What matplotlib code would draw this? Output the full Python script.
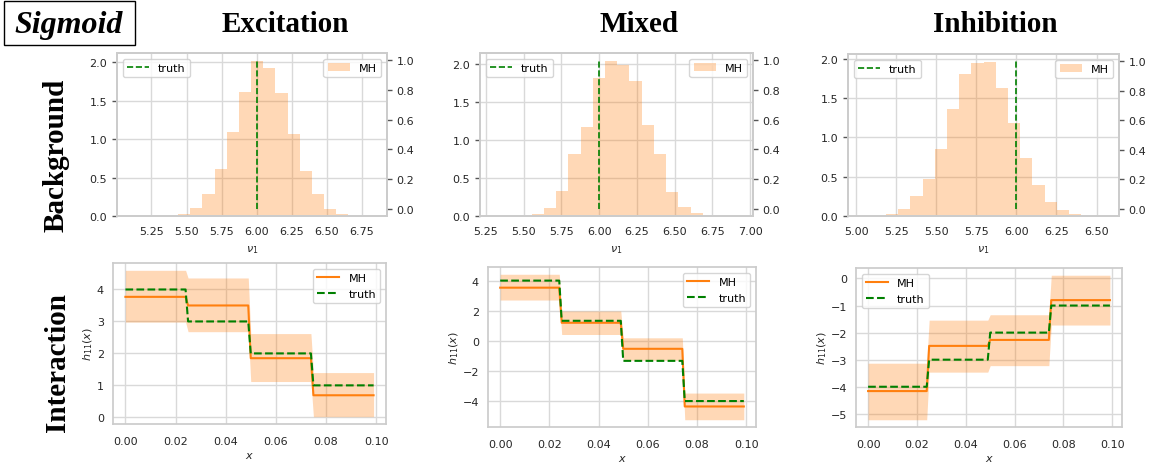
import numpy as np
import matplotlib.pyplot as plt
from matplotlib.patches import Rectangle

# ---- data ----
truth_nu = 6.0

exc_start, exc_width = 5.44, 0.0867
exc_heights = [0.02, 0.10, 0.29, 0.61, 1.09, 1.62, 2.02, 1.92, 1.60, 1.07, 0.59, 0.28, 0.09, 0.02]

mix_start, mix_width = 5.553, 0.081
mix_heights = [0.02, 0.11, 0.33, 0.82, 1.17, 1.82, 2.04, 1.98, 1.78, 1.19, 0.82, 0.32, 0.12, 0.04]

inh_start, inh_width = 5.1875, 0.076
inh_heights = [0.02, 0.09, 0.25, 0.47, 0.85, 1.36, 1.81, 1.94, 1.96, 1.62, 1.18, 0.74, 0.39, 0.18, 0.07, 0.02]

x_grid = np.arange(100) / 1000.0   # 4 Abschnitte a 25 Punkte
pts_per_seg = 25

exc_truth = [4, 3, 2, 1]
exc_mean = [3.77, 3.50, 1.85, 0.69]
exc_lo = [2.98, 2.68, 1.12, 0.02]
exc_hi = [4.60, 4.36, 2.62, 1.40]

mix_truth = [4, 1.33, -1.33, -4]
mix_mean = [3.53, 1.20, -0.53, -4.36]
mix_lo = [2.71, 0.42, -1.29, -5.24]
mix_hi = [4.42, 1.98, 0.20, -3.47]

inh_truth = [-4, -3, -2, -1]
inh_mean = [-4.16, -2.49, -2.27, -0.80]
inh_lo = [-5.22, -3.46, -3.22, -1.72]
inh_hi = [-3.13, -1.54, -1.34, 0.12]

# ---- style ----
plt.rcParams.update({
    'font.family': 'DejaVu Sans',
    'font.size': 8,
    'axes.edgecolor': '#cccccc',
    'axes.linewidth': 1.25,
    'axes.grid': True,
    'axes.axisbelow': True,
    'grid.color': '#d9d9d9',
    'grid.linewidth': 1.0,
    'xtick.color': '#262626',
    'ytick.color': '#262626',
    'xtick.labelcolor': '#262626',
    'ytick.labelcolor': '#262626',
    'axes.labelcolor': '#262626',
    'xtick.major.size': 0,
    'ytick.major.size': 3.5,
    'ytick.major.width': 1.0,
    'legend.fontsize': 8,
    'legend.edgecolor': '#cccccc',
    'mathtext.fontset': 'dejavusans',
})

W, H = 1151, 464
fig = plt.figure(figsize=(W / 100, H / 100), dpi=100)


def box(l, t, r, b):
    return [l / W, 1 - b / H, (r - l) / W, (b - t) / H]


def histo(rect, start, width, heights, xlim):
    ax = fig.add_axes(rect)
    edges = start + width * np.arange(len(heights) + 1)
    ax.bar(edges[:-1], heights, width=width, align='edge', color='C1', alpha=0.3,
           linewidth=0, label='MH')
    ax.set_xlim(*xlim)
    ax.set_xlabel(r'$\nu_1$', labelpad=5)
    ax.tick_params(axis='x', pad=7.5)
    ax.legend(loc='upper right')
    ax2 = ax.twinx()
    ax2.grid(False)
    ax2.plot([truth_nu, truth_nu], [0, 1], color='green', linestyle='--', linewidth=1.2,
             label='truth')
    ax2.legend(loc='upper left')
    for a in (ax, ax2):
        for s in a.spines.values():
            s.set_color('#cccccc')
    ax2.tick_params(axis='y', length=3.5, color='#555555')
    ax.tick_params(axis='y', length=3.5, color='#555555')
    return ax


def stufen(rect, truth, mean, lo, hi, legloc):
    ax = fig.add_axes(rect)
    rep = lambda v: np.repeat(v, pts_per_seg)
    ax.fill_between(x_grid, rep(lo), rep(hi), color='C1', alpha=0.3, linewidth=0)
    ax.plot(x_grid, rep(mean), color='C1', linewidth=1.5, label='MH')
    ax.plot(x_grid, rep(truth), color='green', linestyle='--', linewidth=1.5, label='truth')
    ax.set_xlabel('$x$', labelpad=3)
    ax.set_ylabel('$h_{11}(x)$', labelpad=1)
    ax.tick_params(axis='x', pad=8.5)
    ax.tick_params(axis='y', length=0, pad=6.5)
    ax.legend(loc=legloc)
    return ax


histo(box(117, 54, 387, 217), exc_start, exc_width, exc_heights, (5.004, 6.93))
histo(box(480, 54, 753, 217), mix_start, mix_width, mix_heights, (5.21, 7.02))
histo(box(848, 55, 1119, 217), inh_start, inh_width, inh_heights, (4.95, 6.64))

stufen(box(113, 264, 386, 425), exc_truth, exc_mean, exc_lo, exc_hi, 'upper right')
stufen(box(488, 268, 756, 428), mix_truth, mix_mean, mix_lo, mix_hi, 'upper right')
stufen(box(856, 269, 1122, 428), inh_truth, inh_mean, inh_lo, inh_hi, 'upper left')

# ---- Beschriftungen ----
serif = 'Liberation Serif'
fig.add_artist(Rectangle((4 / W, 1 - 46 / H), 131 / W, 44 / H, transform=fig.transFigure,
                         fill=False, edgecolor='black', linewidth=1.0))
fig.text(69 / W, 1 - 33 / H, 'Sigmoid', family=serif, weight='bold', style='italic',
         fontsize=23, ha='center', va='baseline')
for xc, name in [(285, 'Excitation'), (639, 'Mixed'), (995, 'Inhibition')]:
    fig.text(xc / W, 1 - 32 / H, name, family=serif, weight='bold', fontsize=21,
             ha='center', va='baseline')
fig.text(56 / W, 1 - 155 / H, 'Background', family=serif, weight='bold', fontsize=21,
         rotation=90, ha='center', va='center')
fig.text(57 / W, 1 - 363 / H, 'Interaction', family=serif, weight='bold', fontsize=21,
         rotation=90, ha='center', va='center')

fig.savefig('out.png', dpi=100)
